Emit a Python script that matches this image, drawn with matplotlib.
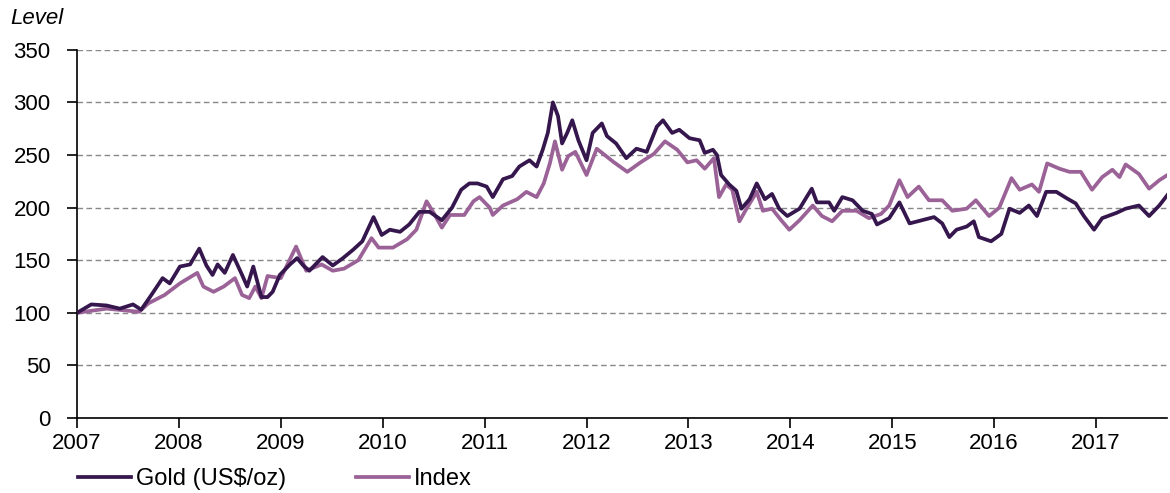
import numpy as np
import matplotlib.pyplot as plt

plt.rcParams['font.family'] = ['Liberation Sans', 'DejaVu Sans']

# Gold (US$/oz), rebased to 100 at start of 2007 (decimal years)
gold_t = [2007.00, 2007.14, 2007.29, 2007.42, 2007.55, 2007.63, 2007.73, 2007.84, 2007.91,
          2008.01, 2008.11, 2008.20, 2008.27, 2008.33, 2008.38, 2008.45, 2008.53, 2008.62,
          2008.67, 2008.73, 2008.81, 2008.87, 2008.92, 2008.99, 2009.09, 2009.16, 2009.22,
          2009.28, 2009.41, 2009.51, 2009.61, 2009.71, 2009.80, 2009.91, 2009.99, 2010.07,
          2010.17, 2010.26, 2010.36, 2010.46, 2010.58, 2010.68, 2010.77, 2010.85, 2010.93,
          2011.02, 2011.08, 2011.18, 2011.27, 2011.34, 2011.44, 2011.51, 2011.57, 2011.62,
          2011.67, 2011.72, 2011.76, 2011.81, 2011.86, 2011.92, 2012.00, 2012.06, 2012.15,
          2012.20, 2012.29, 2012.39, 2012.49, 2012.59, 2012.69, 2012.75, 2012.84, 2012.91,
          2013.01, 2013.11, 2013.16, 2013.24, 2013.28, 2013.32, 2013.40, 2013.47, 2013.52,
          2013.60, 2013.67, 2013.75, 2013.82, 2013.89, 2013.97, 2014.09, 2014.21, 2014.26,
          2014.38, 2014.43, 2014.51, 2014.61, 2014.71, 2014.80, 2014.85, 2014.97, 2015.07,
          2015.17, 2015.29, 2015.41, 2015.49, 2015.56, 2015.63, 2015.73, 2015.80, 2015.85,
          2015.97, 2016.07, 2016.15, 2016.25, 2016.34, 2016.42, 2016.51, 2016.61, 2016.71,
          2016.80, 2016.88, 2016.98, 2017.06, 2017.20, 2017.29, 2017.42, 2017.52, 2017.62,
          2017.70]
gold_v = [100, 108, 107, 104, 108, 103, 117, 133, 128,
          144, 146, 161, 145, 136, 146, 138, 155, 136,
          125, 144, 115, 115, 120, 136, 146, 152, 145,
          140, 153, 145, 152, 160, 168, 191, 174, 179,
          177, 184, 196, 196, 188, 200, 217, 223, 223,
          220, 210, 227, 230, 239, 245, 239, 255, 271,
          300, 287, 261, 271, 283, 264, 245, 271, 280,
          268, 261, 247, 256, 253, 277, 283, 271, 274,
          266, 264, 252, 255, 250, 231, 222, 216, 199,
          208, 223, 208, 213, 199, 192, 199, 218, 205,
          205, 197, 210, 207, 197, 194, 184, 190, 205,
          185, 188, 191, 185, 172, 179, 182, 187, 172,
          168, 175, 199, 195, 202, 192, 215, 215, 209,
          204, 192, 179, 190, 195, 199, 202, 192, 202,
          212]

# Index level
index_t = [2007.00, 2007.29, 2007.61, 2007.70, 2007.86, 2008.01, 2008.18, 2008.24, 2008.34,
           2008.44, 2008.55, 2008.62, 2008.69, 2008.75, 2008.81, 2008.87, 2009.00, 2009.15,
           2009.25, 2009.40, 2009.51, 2009.62, 2009.76, 2009.89, 2009.96, 2010.10, 2010.24,
           2010.33, 2010.43, 2010.50, 2010.58, 2010.66, 2010.80, 2010.89, 2010.95, 2011.05,
           2011.08, 2011.18, 2011.32, 2011.41, 2011.51, 2011.58, 2011.64, 2011.69, 2011.76,
           2011.82, 2011.89, 2012.00, 2012.10, 2012.27, 2012.40, 2012.53, 2012.66, 2012.77,
           2012.89, 2012.99, 2013.08, 2013.16, 2013.25, 2013.30, 2013.37, 2013.43, 2013.50,
           2013.57, 2013.67, 2013.73, 2013.82, 2013.91, 2013.99, 2014.09, 2014.22, 2014.31,
           2014.41, 2014.51, 2014.65, 2014.77, 2014.89, 2014.97, 2015.07, 2015.15, 2015.26,
           2015.36, 2015.49, 2015.59, 2015.73, 2015.82, 2015.95, 2016.05, 2016.17, 2016.25,
           2016.37, 2016.44, 2016.52, 2016.64, 2016.74, 2016.85, 2016.96, 2017.06, 2017.16,
           2017.23, 2017.29, 2017.42, 2017.52, 2017.62, 2017.70]
index_v = [100, 104, 101, 109, 117, 128, 138, 125, 120,
           125, 133, 117, 114, 125, 114, 135, 133, 163,
           140, 146, 140, 142, 150, 171, 162, 162, 170,
           179, 206, 195, 181, 193, 193, 206, 210, 200,
           193, 202, 208, 215, 210, 223, 242, 263, 236,
           249, 253, 231, 256, 243, 234, 243, 251, 263,
           255, 243, 245, 237, 247, 210, 222, 217, 187,
           199, 215, 197, 199, 188, 179, 188, 202, 192,
           187, 197, 197, 190, 194, 202, 226, 210, 220,
           207, 207, 197, 199, 207, 192, 200, 228, 217,
           222, 215, 242, 237, 234, 234, 217, 229, 236,
           229, 241, 232, 218, 226, 231]

gold_color = '#35174d'
index_color = '#9b6297'

fig = plt.figure(figsize=(11.7, 4.93), dpi=100)
ax = fig.add_axes([0.0658, 0.152, 0.932, 0.747])

ax.plot(gold_t, gold_v, color=gold_color, lw=2.7, label='Gold (US$/oz)', zorder=3)
ax.plot(index_t, index_v, color=index_color, lw=2.7, label='Index', zorder=2)

ax.set_xlim(2007, 2017.7)
ax.set_ylim(0, 350)
ax.set_yticks(np.arange(0, 351, 50))
ax.set_xticks(range(2007, 2018))
ax.grid(axis='y', color='#888888', ls=(0, (4, 2.5)), lw=1.0)
ax.set_axisbelow(True)

for s in ['top', 'right']:
    ax.spines[s].set_visible(False)
ax.spines['left'].set_linewidth(1.2)
ax.spines['bottom'].set_linewidth(1.2)
ax.tick_params(direction='out', length=7, width=1.2, labelsize=16)
ax.tick_params(axis='x', pad=4)
ax.tick_params(axis='y', pad=12)

fig.text(0.009, 0.962, 'Level', fontsize=16, style='italic', va='center')

ax.legend(loc='center left', bbox_to_anchor=(-0.0075, -0.166), ncol=2, frameon=False,
          fontsize=17, handlelength=2.25, handletextpad=0.2, columnspacing=2.95,
          borderaxespad=0)

fig.savefig('out.png', dpi=100)
